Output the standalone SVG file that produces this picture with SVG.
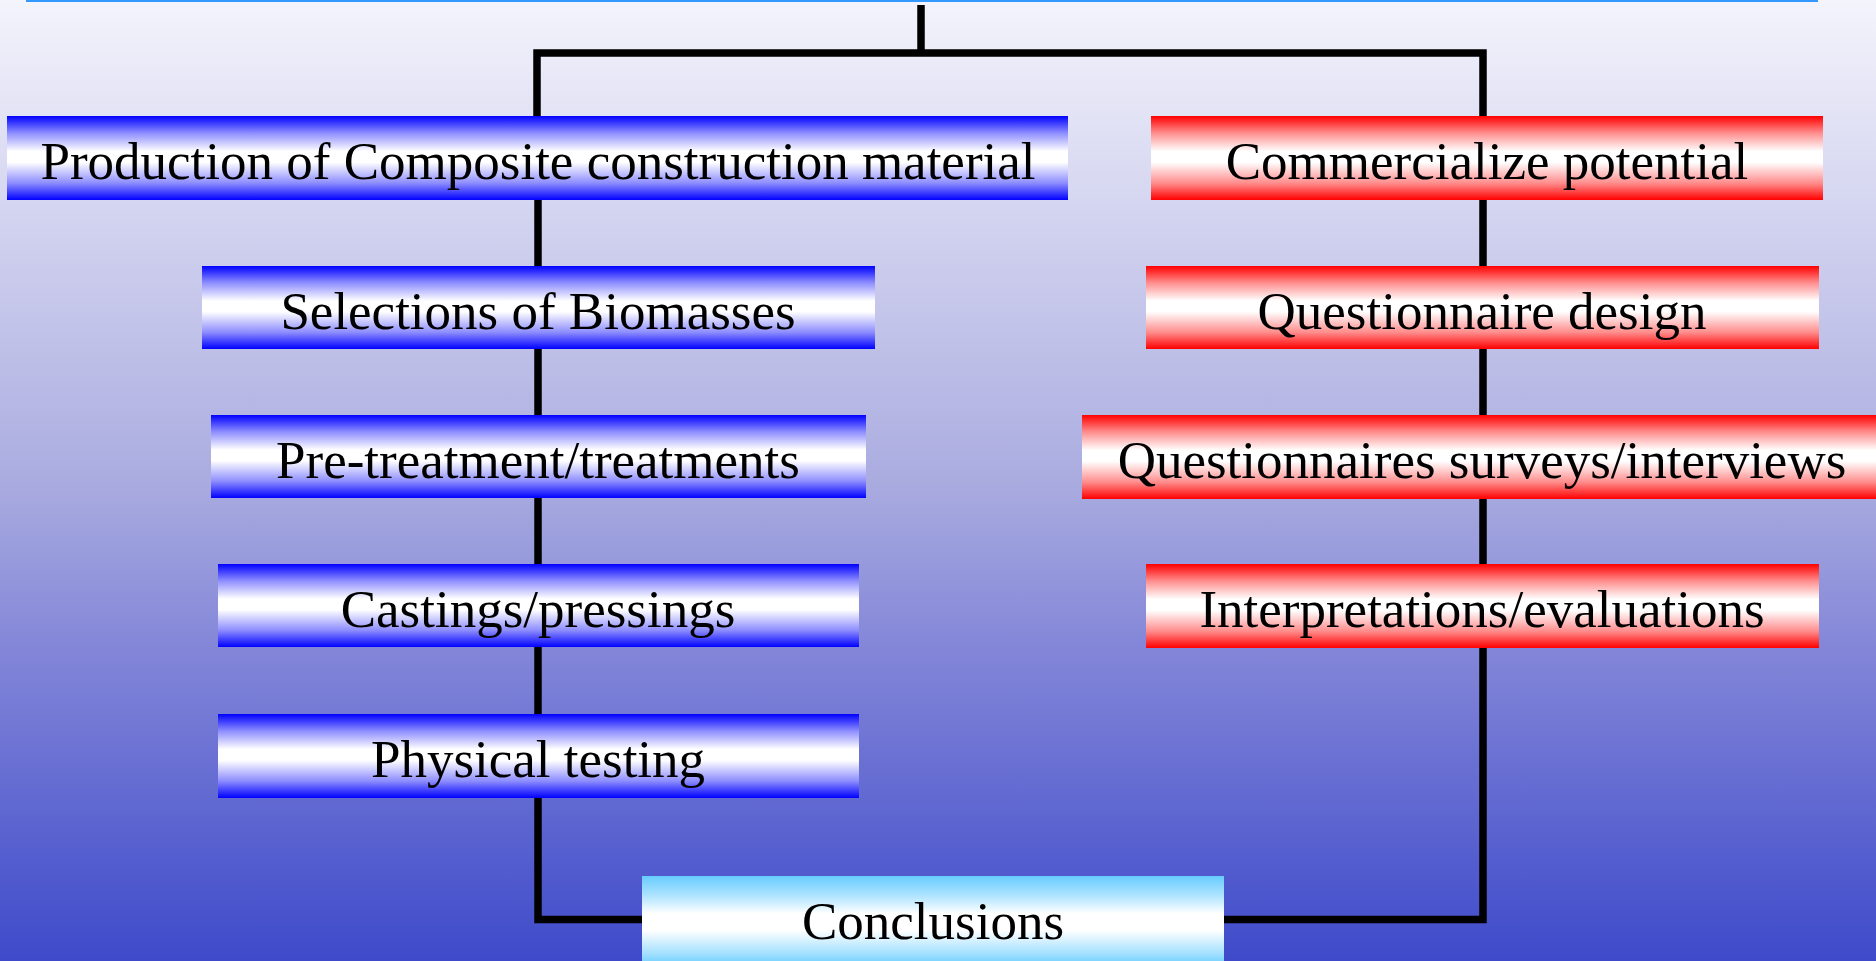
<svg xmlns="http://www.w3.org/2000/svg" width="1876" height="961" viewBox="0 0 1876 961">
  <defs>
    <linearGradient id="bg" x1="0" y1="0" x2="0" y2="1">
      <stop offset="0" stop-color="#F4F4FC"/>
      <stop offset="0.5" stop-color="#AAACE0"/>
      <stop offset="0.67" stop-color="#8487D8"/>
      <stop offset="1" stop-color="#3E4ACA"/>
    </linearGradient>
    <linearGradient id="gBlue" x1="0" y1="0" x2="0" y2="1">
      <stop offset="0" stop-color="#0000FF"/>
      <stop offset="0.2" stop-color="#8C8CFF"/>
      <stop offset="0.42" stop-color="#FFFFFF"/>
      <stop offset="0.55" stop-color="#FFFFFF"/>
      <stop offset="0.8" stop-color="#8C8CFF"/>
      <stop offset="1" stop-color="#0000FF"/>
    </linearGradient>
    <linearGradient id="gRed" x1="0" y1="0" x2="0" y2="1">
      <stop offset="0" stop-color="#FF0000"/>
      <stop offset="0.2" stop-color="#FF8C8C"/>
      <stop offset="0.42" stop-color="#FFFFFF"/>
      <stop offset="0.55" stop-color="#FFFFFF"/>
      <stop offset="0.8" stop-color="#FF8C8C"/>
      <stop offset="1" stop-color="#FF0000"/>
    </linearGradient>
    <linearGradient id="gCyan" x1="0" y1="0" x2="0" y2="1">
      <stop offset="0" stop-color="#66CCFF"/>
      <stop offset="0.2" stop-color="#A8E2FF"/>
      <stop offset="0.42" stop-color="#FFFFFF"/>
      <stop offset="0.6" stop-color="#FFFFFF"/>
      <stop offset="0.85" stop-color="#A8E2FF"/>
      <stop offset="1" stop-color="#66CCFF"/>
    </linearGradient>
  </defs>
  <style>
    .lbl { font-family: "Liberation Serif", "Times New Roman", serif; font-size: 53px; fill: #000; text-anchor: middle; }
    .conn { fill: none; stroke: #000; stroke-width: 7.5; stroke-linejoin: miter; stroke-linecap: butt; }
    .blue { fill: url(#gBlue); }
    .red { fill: url(#gRed); }
    .cyan { fill: url(#gCyan); }
  </style>
  <rect x="0" y="0" width="1876" height="961" fill="url(#bg)"/>
  <rect x="26" y="0" width="1792" height="2" fill="#3399FF"/>

  <g id="connectors">
    <path class="conn" d="M921,5 V53"/>
    <path class="conn" d="M537,116 V53 H1483 V116"/>
    <path class="conn" d="M538,200 V919.5 H642"/>
    <path class="conn" d="M1483,200 V919.5 H1224"/>
  </g>

  <g id="node-production">
    <rect class="blue" x="7" y="116" width="1061" height="84"/>
    <text class="lbl" x="538" y="179">Production of Composite construction material</text>
  </g>
  <g id="node-selections">
    <rect class="blue" x="202" y="266" width="673" height="83"/>
    <text class="lbl" x="538" y="329">Selections of Biomasses</text>
  </g>
  <g id="node-pretreatment">
    <rect class="blue" x="211" y="415" width="655" height="83"/>
    <text class="lbl" x="538" y="478">Pre-treatment/treatments</text>
  </g>
  <g id="node-castings">
    <rect class="blue" x="218" y="564" width="641" height="83"/>
    <text class="lbl" x="538" y="627">Castings/pressings</text>
  </g>
  <g id="node-physical">
    <rect class="blue" x="218" y="714" width="641" height="84"/>
    <text class="lbl" x="538" y="777">Physical testing</text>
  </g>

  <g id="node-commercialize">
    <rect class="red" x="1151" y="116" width="672" height="84"/>
    <text class="lbl" x="1487" y="179">Commercialize potential</text>
  </g>
  <g id="node-qdesign">
    <rect class="red" x="1146" y="266" width="673" height="83"/>
    <text class="lbl" x="1482" y="329">Questionnaire design</text>
  </g>
  <g id="node-surveys">
    <rect class="red" x="1082" y="415" width="800" height="84"/>
    <text class="lbl" x="1482" y="478">Questionnaires surveys/interviews</text>
  </g>
  <g id="node-interpretations">
    <rect class="red" x="1146" y="564" width="673" height="84"/>
    <text class="lbl" x="1482" y="627">Interpretations/evaluations</text>
  </g>

  <g id="node-conclusions">
    <rect class="cyan" x="642" y="876" width="582" height="90"/>
    <text class="lbl" x="933" y="939">Conclusions</text>
  </g>
</svg>
